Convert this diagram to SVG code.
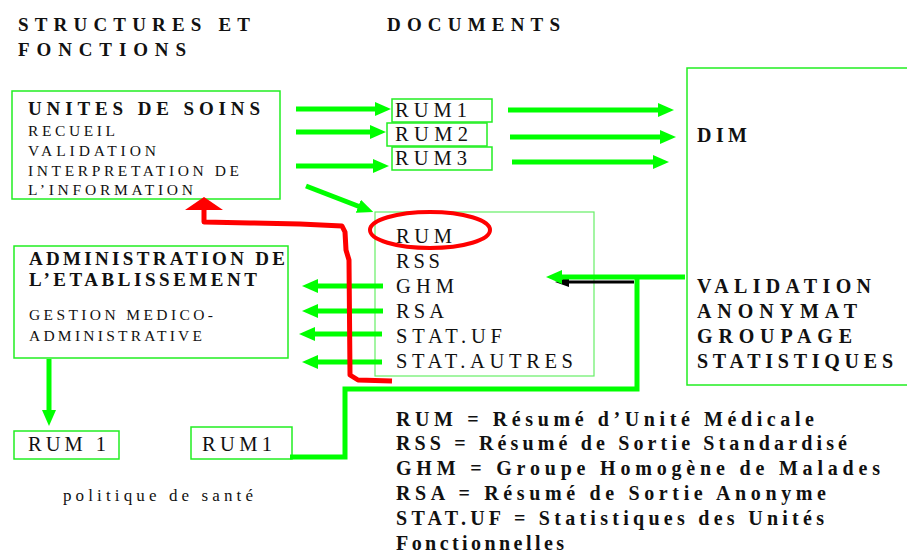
<svg xmlns="http://www.w3.org/2000/svg" width="907" height="554" viewBox="0 0 907 554">
<style>
text{font-family:"Liberation Serif","Times New Roman",serif;fill:#111}
.h{font-size:19px;font-weight:bold}
.hl{font-size:20px;font-weight:bold}
.t{font-size:20.5px}
.s{font-size:15.5px}
.box{fill:none;stroke:#22ee22;stroke-width:1.5}
.g{fill:none;stroke:#00ff00;stroke-width:5}
.r{fill:none;stroke:#ff0000;stroke-width:5;stroke-linejoin:round}
</style>
<defs>
<marker id="ag" markerUnits="userSpaceOnUse" markerWidth="16" markerHeight="14" refX="5" refY="7" orient="auto"><path d="M0,0 L16,7 L0,14 z" fill="#00ff00"/></marker>
<marker id="ak" markerUnits="userSpaceOnUse" markerWidth="14" markerHeight="10" refX="3" refY="5" orient="auto"><path d="M0,0 L14,5 L0,10 z" fill="#000"/></marker>
</defs>

<g id="headers">
<text class="h" x="18" y="31" textLength="232" lengthAdjust="spacing">STRUCTURES ET</text>
<text class="h" x="18" y="56" textLength="168" lengthAdjust="spacing">FONCTIONS</text>
<text class="h" x="387" y="31" textLength="173" lengthAdjust="spacing">DOCUMENTS</text>
</g>

<g id="unites">
<rect class="box" x="12" y="91" width="268" height="108"/>
<text class="h" x="28" y="115" textLength="232" lengthAdjust="spacing">UNITES DE SOINS</text>
<text class="s" x="28" y="136" textLength="87" lengthAdjust="spacing">RECUEIL</text>
<text class="s" x="28" y="156" textLength="128" lengthAdjust="spacing">VALIDATION</text>
<text class="s" x="28" y="176" textLength="211" lengthAdjust="spacing">INTERPRETATION DE</text>
<text class="s" x="28" y="195" textLength="165" lengthAdjust="spacing">L’INFORMATION</text>
</g>

<g id="rum1">
<rect class="box" x="392" y="99" width="100" height="23"/>
<text class="t" x="395" y="117" textLength="72" lengthAdjust="spacing">RUM1</text>
</g>
<g id="rum2">
<rect class="box" x="387" y="123" width="100" height="23"/>
<text class="t" x="395" y="141" textLength="73" lengthAdjust="spacing">RUM2</text>
</g>
<g id="rum3">
<rect class="box" x="392" y="147" width="100" height="23"/>
<text class="t" x="395" y="165" textLength="72" lengthAdjust="spacing">RUM3</text>
</g>

<g id="dim">
<rect class="box" x="687" y="68" width="240" height="317"/>
<text class="hl" x="697" y="142" textLength="50" lengthAdjust="spacing">DIM</text>
<text class="hl" x="697" y="293" textLength="174" lengthAdjust="spacing">VALIDATION</text>
<text class="hl" x="697" y="318" textLength="160" lengthAdjust="spacing">ANONYMAT</text>
<text class="hl" x="697" y="343" textLength="155" lengthAdjust="spacing">GROUPAGE</text>
<text class="hl" x="697" y="368" textLength="196" lengthAdjust="spacing">STATISTIQUES</text>
</g>

<g id="documents">
<rect x="375" y="212" width="219" height="164" fill="none" stroke="#66ee66" stroke-width="1.2"/>
<text class="t" x="396" y="243" textLength="56" lengthAdjust="spacing">RUM</text>
<text class="t" x="396" y="268" textLength="44" lengthAdjust="spacing">RSS</text>
<text class="t" x="396" y="293" textLength="58" lengthAdjust="spacing">GHM</text>
<text class="t" x="396" y="318" textLength="48" lengthAdjust="spacing">RSA</text>
<text class="t" x="396" y="343" textLength="106" lengthAdjust="spacing">STAT.UF</text>
<text class="t" x="396" y="368" textLength="177" lengthAdjust="spacing">STAT.AUTRES</text>
</g>

<g id="admin">
<rect class="box" x="14" y="246" width="274" height="112"/>
<text class="h" x="29" y="265" font-size="17.5" textLength="256" lengthAdjust="spacing">ADMINISTRATION DE</text>
<text class="h" x="29" y="286" font-size="17.5" textLength="228" lengthAdjust="spacing">L’ETABLISSEMENT</text>
<text class="s" x="29" y="320" textLength="184" lengthAdjust="spacing">GESTION MEDICO-</text>
<text class="s" x="29" y="341" textLength="173" lengthAdjust="spacing">ADMINISTRATIVE</text>
</g>

<g id="rum1-admin">
<rect class="box" x="14" y="431" width="105" height="28"/>
<text class="t" x="28" y="451" textLength="78" lengthAdjust="spacing">RUM 1</text>
</g>
<g id="rum1-dim">
<rect class="box" x="191" y="427" width="101" height="32"/>
<text class="t" x="202" y="451" textLength="70" lengthAdjust="spacing">RUM1</text>
</g>

<g id="politique">
<text x="63" y="501" font-size="17" textLength="190" lengthAdjust="spacing">politique de santé</text>
</g>

<g id="legend">
<text class="hl" x="396" y="426" textLength="418" lengthAdjust="spacing">RUM = Résumé d’Unité Médicale</text>
<text class="hl" x="396" y="450" textLength="451" lengthAdjust="spacing">RSS = Résumé de Sortie Standardisé</text>
<text class="hl" x="396" y="475" textLength="484" lengthAdjust="spacing">GHM = Groupe Homogène de Malades</text>
<text class="hl" x="396" y="500" textLength="430" lengthAdjust="spacing">RSA = Résumé de Sortie Anonyme</text>
<text class="hl" x="396" y="525" textLength="428" lengthAdjust="spacing">STAT.UF = Statistiques des Unités</text>
<text class="hl" x="396" y="550" textLength="168" lengthAdjust="spacing">Fonctionnelles</text>
</g>

<g id="connectors">
<path class="g" d="M296,109 L380,109" marker-end="url(#ag)"/>
<path class="g" d="M296,132 L375,132" marker-end="url(#ag)"/>
<path class="g" d="M296,166 L378,166" marker-end="url(#ag)"/>
<path class="g" d="M508,110 L663,110" marker-end="url(#ag)"/>
<path class="g" d="M510,137 L665,137" marker-end="url(#ag)"/>
<path class="g" d="M512,162 L658,162" marker-end="url(#ag)"/>
<path class="g" d="M306,186 L363,208" marker-end="url(#ag)"/>
<path class="g" d="M383,286 L313,286" marker-end="url(#ag)"/>
<path class="g" d="M383,311 L313,311" marker-end="url(#ag)"/>
<path class="g" d="M382,334 L310,334" marker-end="url(#ag)"/>
<path class="g" d="M382,362 L313,362" marker-end="url(#ag)"/>
<path class="g" d="M49,359 L49,415" marker-end="url(#ag)"/>
<path d="M634,282 L566,282" fill="none" stroke="#000" stroke-width="3" marker-end="url(#ak)"/>
<path class="g" d="M685,277 L557,277" marker-end="url(#ag)"/>
<path class="g" d="M637,277 L637,389 L345,389 L345,457 L290,457"/>
<path class="r" d="M392,381 L358,380 L350,375 L349,260 L346,250 L345,232 L342,226 L300,224 L250,223 L204,222 L204,208"/>
<path d="M185,210 L204,197 L223,210 z" fill="#ff0000"/>
<ellipse cx="430" cy="230" rx="60" ry="18" fill="none" stroke="#ff0000" stroke-width="4"/>
</g>
</svg>
